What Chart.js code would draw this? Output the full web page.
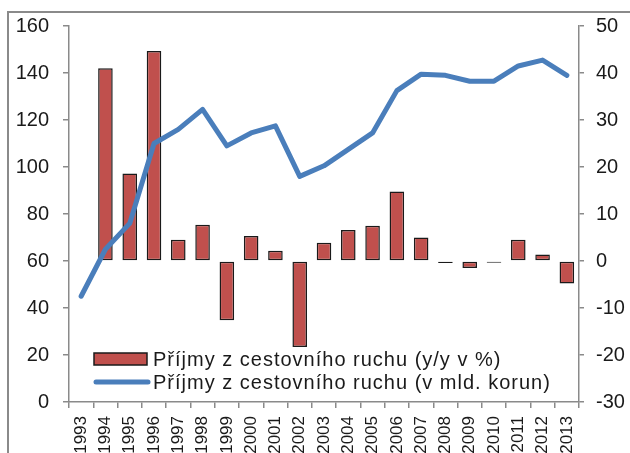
<!DOCTYPE html>
<html>
<head>
<meta charset="utf-8">
<script src="https://cdn.jsdelivr.net/npm/chart.js@4.4.1/dist/chart.umd.min.js"></script>
<style>
html, body { margin: 0; padding: 0; background: #fff; overflow: hidden; }
#wrap { position: relative; width: 630px; height: 480px; }
#frame { position: absolute; left: 7px; top: 11px; width: 640px; height: 480px;
         border-left: 2px solid #8a8a8a; border-top: 2px solid #8a8a8a; }
canvas { position: absolute; left: 0; top: 0; }
</style>
</head>
<body>
<div id="wrap">
  <div id="frame"></div>
  <canvas id="tourismChart" width="630" height="480"></canvas>
</div>
<script>
// Years on the x axis
const years = ["1993", "1994", "1995", "1996", "1997", "1998", "1999", "2000", "2001", "2002",
               "2003", "2004", "2005", "2006", "2007", "2008", "2009", "2010", "2011", "2012", "2013"];

// Receipts from tourism, bn CZK (left axis)
const receiptsBn = [45, 65, 76, 110, 116, 124.5, 109, 114.5, 117.5, 96,
                    100.5, 107.5, 114.5, 132.5, 139.5, 139, 136.5, 136.5, 143, 145.5, 139];

// Receipts from tourism, y/y % (right axis)
const receiptsYoY = [null, 41, 18.6, 44.7, 4.5, 7.7, -12.6, 5.3, 2.2, -18.3,
                     3.9, 6.6, 7.5, 14.8, 5.0, -0.4, -1.5, -0.35, 4.5, 1.4, -4.8];

const labelYoY = "Příjmy z cestovního ruchu (y/y v %)";
const labelBn = "Příjmy z cestovního ruchu (v mld. korun)";

const barColor = "#C0504D";
const lineColor = "#4A7EBB";
const axisColor = "#8a8a8a";
const textColor = "#1a1a1a";

Chart.defaults.font.family = '"Liberation Sans", Arial, sans-serif';
Chart.defaults.color = textColor;

// Legend drawn inside the plot area, bottom left
const insideLegend = {
    id: "insideLegend",
    afterDraw(chart) {
        const ctx = chart.ctx;
        const area = chart.chartArea;
        const x = area.left + 25;
        const y1 = area.bottom - 43;
        const y2 = area.bottom - 20;
        ctx.save();
        ctx.fillStyle = barColor;
        ctx.fillRect(x, y1 - 6, 53, 12);
        ctx.strokeStyle = textColor;
        ctx.lineWidth = 1.5;
        ctx.strokeRect(x, y1 - 6, 53, 12);
        ctx.strokeStyle = lineColor;
        ctx.lineWidth = 5;
        ctx.lineCap = "round";
        ctx.beginPath();
        ctx.moveTo(x + 2, y2);
        ctx.lineTo(x + 54, y2);
        ctx.stroke();
        ctx.fillStyle = textColor;
        ctx.font = '20px "Liberation Sans", Arial, sans-serif';
        ctx.letterSpacing = "1px";
        ctx.textBaseline = "middle";
        ctx.fillText(labelYoY, x + 59, y1 + 1);
        ctx.fillText(labelBn, x + 59, y2 + 1);
        ctx.restore();
    }
};

const ctx = document.getElementById("tourismChart").getContext("2d");
new Chart(ctx, {
    type: "bar",
    data: {
        labels: years,
        datasets: [
            {
                type: "line",
                label: labelBn,
                data: receiptsBn,
                yAxisID: "yL",
                borderColor: lineColor,
                backgroundColor: lineColor,
                borderWidth: 5,
                pointRadius: 0,
                tension: 0,
                borderJoinStyle: "round",
                borderCapStyle: "round",
                order: 0
            },
            {
                type: "bar",
                label: labelYoY,
                data: receiptsYoY,
                yAxisID: "yR",
                backgroundColor: barColor,
                borderColor: textColor,
                borderWidth: 1.5,
                borderSkipped: false,
                barPercentage: 0.6,
                categoryPercentage: 1.0,
                order: 1
            }
        ]
    },
    options: {
        responsive: false,
        animation: false,
        devicePixelRatio: 1,
        layout: { padding: { top: 25, left: 0, right: 0, bottom: 0 } },
        plugins: {
            legend: { display: false },
            tooltip: { enabled: false }
        },
        scales: {
            x: {
                offset: true,
                grid: { offset: true, drawOnChartArea: false, tickLength: 6, color: axisColor, lineWidth: 1.5 },
                border: { color: axisColor, width: 1.5 },
                ticks: { minRotation: 90, maxRotation: 90, autoSkip: false, padding: 8, font: { size: 17 } },
                afterFit: s => { s.height = 78; }
            },
            yL: {
                position: "left",
                min: 0,
                max: 160,
                grid: { drawOnChartArea: false, tickLength: 6, color: axisColor, lineWidth: 1.5 },
                border: { color: axisColor, width: 1.5 },
                ticks: { stepSize: 20, padding: 14, font: { size: 20 } },
                afterFit: s => { s.width = 69; }
            },
            yR: {
                position: "right",
                min: -30,
                max: 50,
                grid: { drawOnChartArea: false, tickLength: 5, color: axisColor, lineWidth: 1.5 },
                border: { color: axisColor, width: 1.5 },
                ticks: { stepSize: 10, padding: 12, font: { size: 20 } },
                afterFit: s => { s.width = 51; }
            }
        }
    },
    plugins: [insideLegend]
});
</script>
</body>
</html>
